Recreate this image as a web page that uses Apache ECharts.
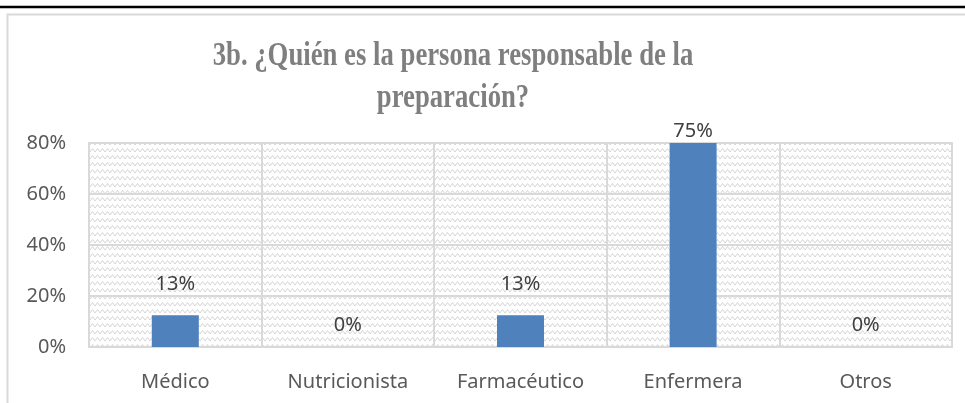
<!DOCTYPE html>
<html>
<head>
<meta charset="utf-8">
<script src="https://cdn.jsdelivr.net/npm/echarts@6/dist/echarts.min.js"></script>
<style>
  html, body { margin: 0; padding: 0; background: #fff; }
  #chart { width: 965px; height: 403px; }
</style>
</head>
<body>
<div id="chart"></div>
<script>
var categories = ["Médico", "Nutricionista", "Farmacéutico", "Enfermera", "Otros"];
// bar heights as drawn in the picture (percent)
var barValues = [12.5, 0, 12.5, 80, 0];
// data label texts as printed
var labelTexts = ["13%", "0%", "13%", "75%", "0%"];
var yTicks = [0, 20, 40, 60, 80];

// light zigzag texture for the plot background
function makePattern() {
  var c = document.createElement("canvas");
  c.width = 10;
  c.height = 7;
  var ctx = c.getContext("2d");
  ctx.fillStyle = "#ffffff";
  ctx.fillRect(0, 0, 10, 7);
  ctx.strokeStyle = "#d6d6d6";
  ctx.lineWidth = 1;
  ctx.beginPath();
  ctx.moveTo(0, 5);
  ctx.lineTo(2.5, 1.5);
  ctx.lineTo(5, 5);
  ctx.lineTo(7.5, 1.5);
  ctx.lineTo(10, 5);
  ctx.stroke();
  return c;
}

var chart = echarts.init(document.getElementById("chart"));
var yMax = yTicks[yTicks.length - 1];

var seriesData = barValues.map(function (v, i) {
  var d = 21;
  if (v >= yMax) d = 2;
  else if (v === 0) d = 12;
  return {
    value: v,
    label: { formatter: labelTexts[i], distance: d },
  };
});

var headFont = "bold 20px 'Liberation Serif'";

var option = {
  animation: false,
  graphic: [
    {
      type: "rect",
      shape: { x: 7.5, y: 14.5, width: 1000, height: 420 },
      style: { fill: "none", stroke: "#d9d9d9", lineWidth: 2 },
      z: -10,
    },
    {
      type: "line",
      shape: { x1: 0, y1: 7, x2: 965, y2: 7 },
      style: { stroke: "#000", lineWidth: 2.5 },
    },
    {
      type: "text",
      x: 178, y: 5,
      style: { text: "Total", font: headFont, fill: "#000", align: "center", verticalAlign: "bottom" },
    },
    {
      type: "text",
      x: 530, y: 5,
      style: { text: "8", font: headFont, fill: "#000", align: "center", verticalAlign: "bottom" },
    },
    {
      type: "text",
      x: 879, y: 5,
      style: { text: "100%", font: headFont, fill: "#000", align: "center", verticalAlign: "bottom" },
    },
    {
      // chart title, slightly condensed like the original
      type: "text",
      x: 453,
      y: 35,
      scaleX: 0.81,
      style: {
        text: "3b. ¿Quién es la persona responsable de la\npreparación?",
        font: "bold 33px 'Liberation Serif'",
        lineHeight: 42,
        fill: "#7f7f7f",
        align: "center",
        verticalAlign: "top",
      },
    },
  ],
  grid: {
    left: 89,
    right: 13,
    top: 143,
    bottom: 56,
    show: true,
    backgroundColor: { image: makePattern(), repeat: "repeat" },
    borderColor: "#d9d9d9",
    borderWidth: 2,
  },
  xAxis: {
    type: "category",
    data: categories,
    axisLine: { show: true, lineStyle: { color: "#d9d9d9", width: 2 } },
    axisTick: { show: false },
    splitLine: { show: true, lineStyle: { color: "#d9d9d9", width: 2 } },
    axisLabel: {
      color: "#595959",
      fontFamily: "Noto Sans",
      fontSize: 20,
      margin: 25,
    },
  },
  yAxis: {
    type: "value",
    min: 0,
    max: yMax,
    interval: yTicks[1] - yTicks[0],
    axisLine: { show: false },
    axisTick: { show: false },
    splitLine: { show: true, lineStyle: { color: "#d9d9d9", width: 2 } },
    axisLabel: {
      color: "#595959",
      fontFamily: "Noto Sans",
      fontSize: 20,
      margin: 23,
      formatter: "{value}%",
    },
  },
  series: [
    {
      type: "bar",
      barWidth: 47,
      data: seriesData,
      itemStyle: { color: "#4f81bd" },
      label: {
        show: true,
        position: "top",
        color: "#404040",
        fontFamily: "Noto Sans",
        fontSize: 20,
      },
    },
  ],
};

chart.setOption(option);
</script>
</body>
</html>
